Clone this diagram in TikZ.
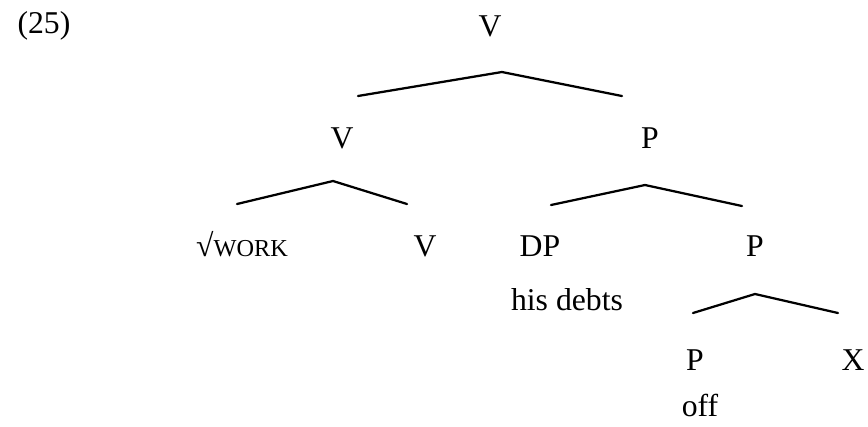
\documentclass[tikz,border=0pt]{standalone}
\usepackage{fontspec}
\setmainfont{Liberation Serif}
\newcommand{\smc}[1]{{\fontsize{9.2}{10}\selectfont #1}}
\tikzset{
  cat/.style  ={font=\fontsize{12}{14}\selectfont, text=black, inner sep=0pt},
  branch/.style={draw=black, line width=0.85pt, line cap=round},
}

\begin{document}
\begin{tikzpicture}[x=0.3785pt, y=-0.3785pt]
  \useasboundingbox (0,0) rectangle (868,426);

  % ---- example number ----
  \node[cat] (exnum) at (44,26) {(25)};

  % ---- level 0 ----
  \node[cat] (root) at (490,26) {V};
  \coordinate (rootT) at (502,72);
  \coordinate (rootL) at (358,96);
  \coordinate (rootR) at (622,96);
  \draw[branch] (rootL) -- (rootT) -- (rootR);

  % ---- level 1 ----
  \node[cat] (vl) at (342,138) {V};
  \node[cat] (pr) at (650,138) {P};
  \coordinate (vlT) at (333,181);
  \coordinate (vlL) at (237,204);
  \coordinate (vlR) at (407,204);
  \draw[branch] (vlL) -- (vlT) -- (vlR);
  \coordinate (prT) at (645,185);
  \coordinate (prL) at (551,205);
  \coordinate (prR) at (742,206);
  \draw[branch] (prL) -- (prT) -- (prR);

  % ---- level 2 ----
  \node[cat, anchor=base] (root2) at (242,256.5) {\textsurd\smc{WORK}};
  \node[cat] (vv)    at (425,246) {V};
  \node[cat] (dp)    at (540,246) {DP};
  \node[cat] (pp)    at (755,246) {P};
  \node[cat] (debts) at (567,300) {his debts};
  \coordinate (ppT) at (755,294);
  \coordinate (ppL) at (693,313);
  \coordinate (ppR) at (838,313);
  \draw[branch] (ppL) -- (ppT) -- (ppR);

  % ---- level 3 ----
  \node[cat] (phead) at (695,360) {P};
  \node[cat] (xx)    at (853,360) {X};
  \node[cat] (off)   at (700,405) {off};

\end{tikzpicture}
\end{document}
